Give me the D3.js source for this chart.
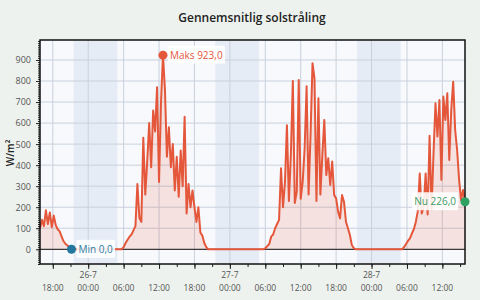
<!DOCTYPE html>
<html>
<head>
<meta charset="utf-8">
<script src="https://cdn.jsdelivr.net/npm/d3@7"></script>
<style>
    body { margin: 0; background: #edf2ee; }
    text { font-family: 'Open Sans', sans-serif; }
</style>
</head>
<body>
<svg id="chart"></svg>
<script>
const parse = d3.timeParse('%Y-%m-%d %H:%M')

// time window and sampling step of the series
const rangeStart = '2024-07-25 15:50'
const rangeEnd = '2024-07-28 15:50'
const stepMinutes = 20

// W/m2, one value per 20 minutes from the start time
const eveningStart = '2024-07-25 15:50'
const eveningValues = [100, 140, 110, 185, 120, 175, 105, 160, 115, 95, 85, 60, 38, 25, 18, 8, 0]

const day1Start = '2024-07-26 05:40'
const day1Values = [0, 10, 30, 45, 60, 70, 90, 110, 310, 150, 130, 530, 260, 420, 600, 390,
    660, 560, 770, 320, 700, 923, 760, 440, 580, 390, 500, 280, 440, 250, 470, 300,
    630, 170, 310, 200, 280, 200, 130, 200, 80, 65, 30, 10, 0]

const day2Start = '2024-07-27 05:40'
const day2Values = [0, 5, 15, 25, 60, 70, 100, 120, 140, 385, 200, 320, 590, 230, 450, 800,
    220, 274, 805, 240, 320, 480, 775, 260, 544, 885, 813, 230, 718, 260, 450, 615,
    353, 433, 306, 417, 258, 242, 179, 147, 258, 226, 131, 100, 68, 20, 5, 0]

const day3Start = '2024-07-28 05:10'
const day3Values = [0, 10, 25, 40, 52, 75, 95, 130, 180, 360, 170, 200, 360, 165, 540, 190,
    456, 694, 536, 710, 330, 726, 615, 742, 425, 662, 797, 567, 472, 330, 234, 282, 226]

// dark hours (shaded)
const nightStarts = ['2024-07-25 21:32', '2024-07-26 21:32', '2024-07-27 21:32']
const nightEnds = ['2024-07-26 04:56', '2024-07-27 04:56', '2024-07-28 04:56']

const yTicks = [0, 100, 200, 300, 400, 500, 600, 700, 800, 900]

const segments = [
    [eveningStart, eveningValues],
    [day1Start, day1Values],
    [day2Start, day2Values],
    [day3Start, day3Values]
]

let data = []
segments.forEach(([start, values]) => {
    let t0 = parse(start)
    values.forEach((v, i) => {
        data.push({ date: d3.timeMinute.offset(t0, i * stepMinutes), value: v })
    })
})

const config = {
    width: 480,
    height: 300,
    margin: { top: 40, right: 15, bottom: 36, left: 40 }
}
const width = config.width - config.margin.left - config.margin.right
const height = config.height - config.margin.top - config.margin.bottom

const svg = d3.select('#chart')
    .attr('width', config.width)
    .attr('height', config.height)

svg.append('rect')
    .attr('width', config.width)
    .attr('height', config.height)
    .attr('fill', '#edf2ee')

const chart = svg.append('g')
    .attr('transform', `translate(${config.margin.left},${config.margin.top})`)

const xScale = d3.scaleTime()
    .domain([parse(rangeStart), parse(rangeEnd)])
    .range([0, width])

const yScale = d3.scaleLinear()
    .domain([-70, 995])
    .range([height, 0])

chart.append('rect')
    .attr('width', width)
    .attr('height', height)
    .attr('fill', '#f7f9fd')

chart.selectAll('.night')
    .data(nightStarts.map((s, i) => [parse(s), parse(nightEnds[i])]))
    .join('rect')
    .attr('class', 'night')
    .attr('x', d => xScale(d[0]))
    .attr('width', d => xScale(d[1]) - xScale(d[0]))
    .attr('y', 0)
    .attr('height', height)
    .attr('fill', '#e5ecf6')

const majorTimes = d3.timeHour.every(6).range(parse(rangeStart), parse(rangeEnd))
const minorTimes = d3.timeHour.every(3).range(parse(rangeStart), parse(rangeEnd))

// grid
chart.selectAll('.hgrid')
    .data(yTicks.filter(d => d !== 0))
    .join('line')
    .attr('class', 'hgrid')
    .attr('x1', 0).attr('x2', width)
    .attr('y1', d => yScale(d)).attr('y2', d => yScale(d))
    .attr('stroke', '#c9d1dc')
    .attr('stroke-width', 1)

chart.selectAll('.vgrid')
    .data(majorTimes)
    .join('line')
    .attr('class', 'vgrid')
    .attr('x1', d => xScale(d)).attr('x2', d => xScale(d))
    .attr('y1', 0).attr('y2', height)
    .attr('stroke', '#c9d1dc')
    .attr('stroke-width', 1)

const area = d3.area()
    .x(d => xScale(d.date))
    .y0(yScale(0))
    .y1(d => yScale(d.value))

const line = d3.line()
    .x(d => xScale(d.date))
    .y(d => yScale(d.value))

chart.append('path')
    .datum(data)
    .attr('d', area)
    .attr('fill', 'rgba(228, 87, 59, 0.15)')

chart.append('line')
    .attr('x1', 0).attr('x2', width)
    .attr('y1', yScale(0)).attr('y2', yScale(0))
    .attr('stroke', '#3a3a3a')
    .attr('stroke-width', 1.3)

chart.append('path')
    .datum(data)
    .attr('d', line)
    .attr('fill', 'none')
    .attr('stroke', '#e4573b')
    .attr('stroke-width', 2)
    .attr('stroke-linejoin', 'round')

// axes
const yMinor = d3.range(-70, 996, 10)
chart.append('g')
    .call(d3.axisLeft(yScale).tickValues(yMinor).tickSize(2).tickFormat(''))
    .call(g => g.select('.domain').remove())
    .call(g => g.selectAll('line').attr('stroke', '#222'))

chart.append('g')
    .attr('class', 'axis y-axis')
    .call(d3.axisLeft(yScale).tickValues(yTicks).tickSize(4).tickPadding(5))
    .call(g => g.select('.domain').remove())
    .call(g => g.selectAll('line').attr('stroke', '#222'))
    .call(g => g.selectAll('text')
        .attr('font-size', 9)
        .attr('font-family', "'Open Sans', sans-serif")
        .attr('fill', '#555'))

chart.append('g')
    .attr('transform', `translate(0,${height})`)
    .call(d3.axisBottom(xScale).tickValues(minorTimes).tickSize(3).tickFormat(''))
    .call(g => g.select('.domain').remove())
    .call(g => g.selectAll('line').attr('stroke', '#222'))

const xAxisG = chart.append('g')
    .attr('class', 'axis x-axis')
    .attr('transform', `translate(0,${height})`)
    .call(d3.axisBottom(xScale).tickValues(majorTimes).tickSize(5).tickFormat(''))
    .call(g => g.select('.domain').remove())
    .call(g => g.selectAll('line').attr('stroke', '#222'))

const dayFormat = d3.timeFormat('%-d-%-m')
const hourFormat = d3.timeFormat('%H:%M')

// date line only at midnight, hour line on every major tick
xAxisG.selectAll('.xday')
    .data(majorTimes.filter(d => d.getHours() === 0))
    .join('text')
    .attr('class', 'xday')
    .attr('x', d => xScale(d))
    .attr('y', 14)
    .attr('text-anchor', 'middle')
    .attr('font-size', 8.5)
    .attr('fill', '#555')
    .text(d => dayFormat(d))

xAxisG.selectAll('.xhour')
    .data(majorTimes)
    .join('text')
    .attr('class', 'xhour')
    .attr('x', d => xScale(d))
    .attr('y', 26.5)
    .attr('text-anchor', 'middle')
    .attr('font-size', 8.5)
    .attr('fill', '#555')
    .text(d => hourFormat(d))

// frame
chart.append('rect')
    .attr('width', width)
    .attr('height', height)
    .attr('fill', 'none')
    .attr('stroke', '#111')
    .attr('stroke-width', 1.5)

// markers
const fmt = v => v.toFixed(1).replace('.', ',')
const maxPoint = data[d3.maxIndex(data, d => d.value)]
const minPoint = data[d3.minIndex(data, d => d.value)]
const lastPoint = data[data.length - 1]

const markers = [
    { point: maxPoint, label: `Maks ${fmt(maxPoint.value)}`, color: '#e4573b', textColor: '#e4573b', side: 'right' },
    { point: minPoint, label: `Min ${fmt(minPoint.value)}`, color: '#23779f', textColor: '#2b7ca6', side: 'right' },
    { point: lastPoint, label: `Nu ${fmt(lastPoint.value)}`, color: '#2ea163', textColor: '#3b9c63', side: 'left' }
]

markers.forEach(m => {
    let cx = xScale(m.point.date)
    let cy = yScale(m.point.value)
    let g = chart.append('g')
    let bg = g.append('rect').attr('fill', 'rgba(255,255,255,0.88)')
    let t = g.append('text')
        .attr('x', m.side === 'right' ? cx + 7 : cx - 9)
        .attr('y', cy)
        .attr('dy', '0.35em')
        .attr('text-anchor', m.side === 'right' ? 'start' : 'end')
        .attr('font-size', 10)
        .attr('fill', m.textColor)
        .text(m.label)
    let b = t.node().getBBox()
    bg.attr('x', b.x - 2).attr('y', b.y - 2)
        .attr('width', b.width + 4).attr('height', b.height + 4)
    chart.append('circle')
        .attr('cx', cx)
        .attr('cy', cy)
        .attr('r', 4.5)
        .attr('fill', m.color)
})

// titles
svg.append('text')
    .attr('x', 252)
    .attr('y', 22)
    .attr('text-anchor', 'middle')
    .attr('font-size', 12)
    .attr('font-weight', 600)
    .attr('fill', '#222')
    .text('Gennemsnitlig solstråling')

svg.append('text')
    .attr('transform', 'translate(14,153) rotate(-90)')
    .attr('text-anchor', 'middle')
    .attr('font-size', 10)
    .attr('font-weight', 600)
    .attr('fill', '#222')
    .text('W/m²')
</script>
</body>
</html>
